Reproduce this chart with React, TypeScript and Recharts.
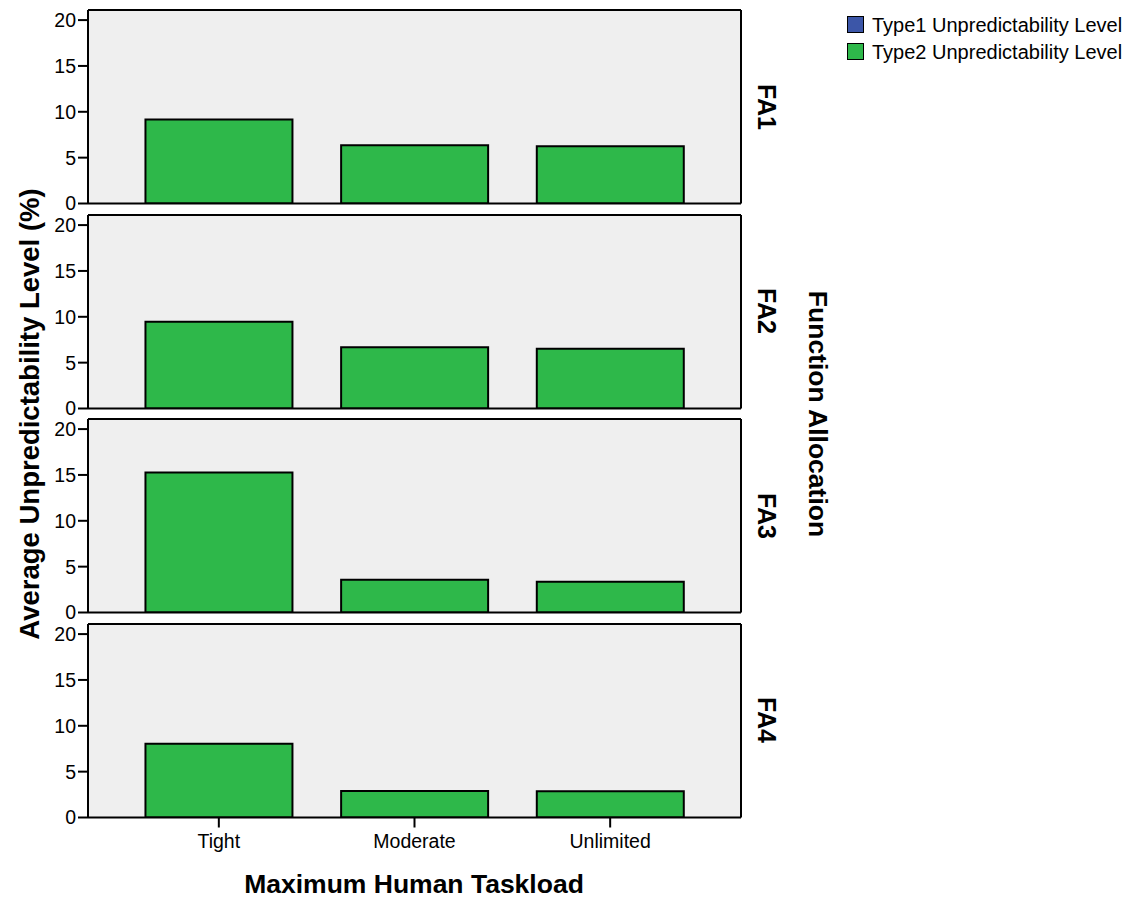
import React from 'react';
import { BarChart, Bar, XAxis, YAxis, CartesianGrid } from 'recharts';

const categories = ['Tight', 'Moderate', 'Unlimited'];
const panelLabels = ['FA1', 'FA2', 'FA3', 'FA4'];
const fa1Type2 = [9.15, 6.34, 6.23];
const fa2Type2 = [9.47, 6.67, 6.52];
const fa3Type2 = [15.27, 3.57, 3.35];
const fa4Type2 = [8.03, 2.9, 2.85];
const yTicks = [0, 5, 10, 15, 20];
const legendLabels = ['Type1 Unpredictability Level', 'Type2 Unpredictability Level'];
const legendColors = ['#3c56a8', '#2eb84a'];

const panelValues = [fa1Type2, fa2Type2, fa3Type2, fa4Type2];
const panelTops = [10, 214.5, 419, 623.5];
const PLOT_H = 193.5;
const FONT = '"Liberation Sans", Arial, sans-serif';

function Panel({ values, top, showX }: { values: number[]; top: number; showX: boolean }) {
  const data = categories.map((c, i) => ({ category: c, type2: values[i] }));
  const xH = showX ? 45 : 1;
  const extra = showX ? 0 : 12;
  const h = 4 + 1 + PLOT_H + xH + extra;
  const tickStyle = { fontSize: 19.5, fill: '#000', fontFamily: FONT };
  return (
    <div style={{ position: 'absolute', left: 0, top: top - 5 }}>
      <BarChart
        width={760}
        height={h}
        data={data}
        margin={{ top: 4, right: 18, left: 0, bottom: extra }}
        barCategoryGap="12.5%"
      >
        <CartesianGrid horizontal={false} vertical={false} fill="#efefef" />
        <XAxis
          dataKey="category"
          padding={{ left: 33, right: 33 }}
          axisLine={{ stroke: '#000', strokeWidth: 2 }}
          tickLine={showX ? { stroke: '#000', strokeWidth: 2 } : false}
          tick={showX ? tickStyle : false}
          tickSize={10}
          tickMargin={7}
          height={xH}
          interval={0}
        />
        <XAxis
          xAxisId="top"
          orientation="top"
          dataKey="category"
          padding={{ left: 33, right: 33 }}
          axisLine={{ stroke: '#000', strokeWidth: 2 }}
          tickLine={false}
          tick={false}
          height={1}
        />
        <YAxis
          domain={[0, 21.1]}
          ticks={yTicks}
          allowDataOverflow
          width={88}
          axisLine={{ stroke: '#000', strokeWidth: 2 }}
          tickLine={{ stroke: '#000', strokeWidth: 2 }}
          tickSize={10}
          tickMargin={2}
          tick={tickStyle}
        />
        <YAxis
          yAxisId="right"
          orientation="right"
          domain={[0, 21.1]}
          width={1}
          axisLine={{ stroke: '#000', strokeWidth: 2 }}
          tickLine={false}
          tick={false}
        />
        <Bar dataKey="type2" fill="#2eb84a" stroke="#000" strokeWidth={2} isAnimationActive={false} />
      </BarChart>
    </div>
  );
}

const rotated = (x: number, y: number, deg: number, size: number, text: string, key?: string) => (
  <div
    key={key}
    style={{
      position: 'absolute',
      left: x,
      top: y,
      transform: `translate(-50%, -50%) rotate(${deg}deg)`,
      whiteSpace: 'nowrap',
      fontWeight: 'bold',
      fontSize: size,
      lineHeight: 1,
      fontFamily: FONT,
      color: '#000',
    }}
  >
    {text}
  </div>
);

export default function App() {
  return (
    <div style={{ position: 'absolute', left: 0, top: 0, width: 1131, height: 899, background: '#fff', fontFamily: FONT }}>
      {panelValues.map((v, i) => (
        <Panel key={i} values={v} top={panelTops[i]} showX={i === panelValues.length - 1} />
      ))}
      {panelLabels.map((l, i) => rotated(766, panelTops[i] + PLOT_H / 2, 90, 25, l, l))}
      {rotated(30, 413.5, -90, 27.5, 'Average Unpredictability Level (%)')}
      {rotated(818, 414, 90, 26.5, 'Function Allocation')}
      {rotated(414, 884, 0, 26.5, 'Maximum Human Taskload')}
      <div style={{ position: 'absolute', left: 847, top: 11 }}>
        {legendLabels.map((l, i) => (
          <div key={l} style={{ display: 'flex', alignItems: 'center', height: 27 }}>
            <div style={{ width: 17, height: 17, background: legendColors[i], border: '1px solid #000', boxSizing: 'border-box', marginRight: 8 }} />
            <span style={{ fontSize: 20, lineHeight: 1, whiteSpace: 'nowrap' }}>{l}</span>
          </div>
        ))}
      </div>
    </div>
  );
}
